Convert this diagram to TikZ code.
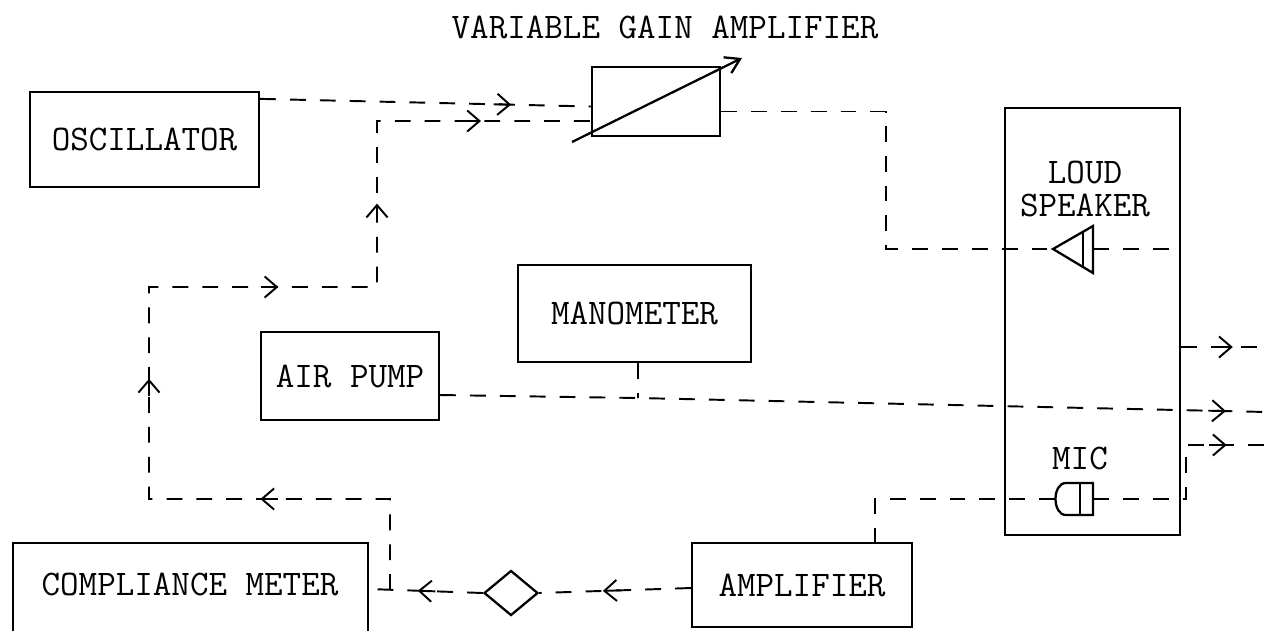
\documentclass[tikz,border=0pt]{standalone}
\usepackage{fontspec}
\usetikzlibrary{calc,arrows.meta,decorations.markings,shapes.geometric}
\newcommand{\lblfont}{\fontsize{20.5}{23}\selectfont\ttfamily}
\newcommand{\lsfont}{\fontsize{20.5}{18.8}\selectfont\ttfamily}
\newcommand{\tipbody}{\draw[solid,line width=1.1pt,-{Straight Barb[length=7pt,width=12pt]}] (-7pt,0pt) -- (3pt,0pt);}
\begin{document}
\begin{tikzpicture}[x=0.02cm,y=-0.02cm,
  box/.style={draw,line width=1.3pt,inner sep=0pt,font=\lblfont},
  txt/.style={inner sep=0pt,font=\lblfont},
  conn/.style={line width=1.1pt,dash pattern=on 9pt off 8pt},
  shp/.style={line width=1.3pt},
  midarr/.style={postaction={decorate,decoration={markings,mark=at position #1 with {\tipbody}}}}
]
\clip (0,0) rectangle (1267,630);
\fill[white] (0,0) rectangle (1267,630);

% title
\node[txt] (title) at (665,27) {VARIABLE GAIN AMPLIFIER};

% boxes
\node[box,minimum width=4.58cm,minimum height=1.9cm] (osc) at (144.5,139.5) {OSCILLATOR};
\node[box,minimum width=2.56cm,minimum height=1.38cm] (vga) at (656,101.5) {};
\node[box,minimum width=4.66cm,minimum height=1.94cm] (man) at (634.5,313.5) {MANOMETER};
\node[box,minimum width=3.56cm,minimum height=1.76cm] (air) at (350,376) {AIR PUMP};
\node[box,minimum width=3.5cm,minimum height=8.54cm] (ls) at (1092.5,321.5) {};
\node[box,minimum width=4.4cm,minimum height=1.68cm] (amp) at (802,585) {AMPLIFIER};
\node[box,minimum width=7.1cm,minimum height=2.34cm] (cm) at (190.5,601.5) {};
\node[txt] (cmtxt) at (190,584) {COMPLIANCE METER};
\node[draw,shp,diamond,inner sep=0pt,minimum width=1.08cm,minimum height=0.9cm] (dia) at (511,593) {};

% labels inside the loud speaker box
\node[inner sep=0pt,font=\lsfont,align=center] (lstxt) at (1085,189) {LOUD\\SPEAKER};
\node[txt] (mictxt) at (1080,458) {MIC};

% variable gain arrow
\coordinate (d1) at (572,142);
\coordinate (d2) at (742,58);
\draw[shp,-{Straight Barb[length=8pt,width=10pt]}] (d1) -- (d2);

% loud speaker symbol
\coordinate (spk) at (1053,249);
\coordinate (spkR) at (1093,249);
\draw[shp,line join=miter] (spk) -- (1093,226) -- (1093,273) -- cycle;
\draw[shp] (1083,232) -- (1083,267);

% microphone symbol
\coordinate (micL) at (1055,499);
\coordinate (micR) at (1093,499);
\draw[shp] (1093,483) -- (1066,483) .. controls (1052,483) and (1052,515) .. (1066,515) -- (1093,515) -- cycle;
\draw[shp] (1080,483) -- (1080,515);

% free ends at the right edge
\coordinate (out1) at (1267,347);
\coordinate (out2) at (1267,412);
\coordinate (out3) at (1267,445);
\coordinate (J) at (390,590);
\coordinate (mj) at (638,398);

% oscillator -> VGA
\draw[conn,midarr=0.743] ($(osc.north east)+(0,8)$) -- ($(vga.west)+(0,5)$);

% feedback loop from compliance meter line to VGA
\draw[conn,postaction={decorate,decoration={markings,
   mark=at position 0.187 with {\tipbody},
   mark=at position 0.388 with {\tipbody},
   mark=at position 0.580 with {\tipbody},
   mark=at position 0.738 with {\tipbody},
   mark=at position 0.900 with {\tipbody}}}]
  (J) -- (390,499) -- (149,499) -- (149,287) -- (377,287) -- (377,121) -- ($(vga.west)+(0,19.5)$);

% VGA -> loud speaker
\draw[conn] ($(vga.east)+(0,10)$) -- (886,111.5) |- (spk);
\draw[conn] (spkR) -- (spkR -| ls.east);

% outputs on the right
\draw[conn,midarr=0.54] (ls.east |- out1) -- (out1);
\draw[conn,midarr=0.944] ($(air.east)+(0,19)$) -- (mj) -- (out2);
\draw[conn] ($(man.south)+(3.5,0)$) -- (mj);
\draw[conn,midarr=0.80] (micR) -- (1186,499) -- (1186,445) -- (out3);

% microphone -> amplifier -> diamond -> compliance meter
\draw[conn] (micL) -| ($(amp.north east)+(-38,0)$);
\draw[conn,midarr=0.545] ($(amp.west)+(0,3)$) -- (dia.east);
\draw[conn,midarr=0.526] (dia.west) -- ($(cm.east)+(0,-12.5)$);
\end{tikzpicture}
\end{document}
